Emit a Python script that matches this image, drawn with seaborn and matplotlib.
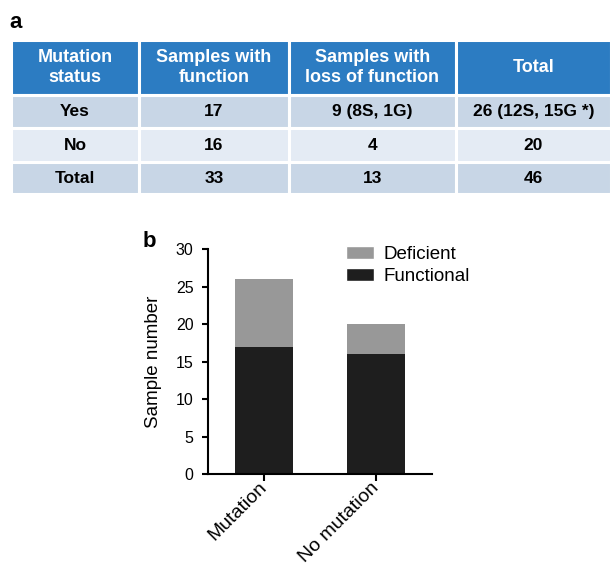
import numpy as np
import pandas as pd
import seaborn as sns
import matplotlib.pyplot as plt
from matplotlib.patches import Patch

# datos de la tabla (panel a)
col_labels = ["Mutation\nstatus", "Samples with\nfunction", "Samples with\nloss of function", "Total"]
row_status = ["Yes", "No", "Total"]
col_function = ["17", "16", "33"]
col_loss = ["9 (8S, 1G)", "4", "13"]
col_total = ["26 (12S, 15G *)", "20", "46"]

# datos del grafico (panel b)
groups = ["Mutation", "No mutation"]
functional = [17, 16]
deficient = [9, 4]

sns.set_theme(style="white")
plt.rcParams['font.family'] = ['Liberation Sans', 'DejaVu Sans']
plt.rcParams['text.color'] = 'black'
plt.rcParams['axes.labelcolor'] = 'black'
plt.rcParams['xtick.color'] = 'black'
plt.rcParams['ytick.color'] = 'black'

fig = plt.figure(figsize=(6.11, 5.7), dpi=100)

# Panel a: tabla
ax_t = fig.add_axes([0.018, 0.6596, 0.982, 0.2702])
ax_t.axis("off")
cell_text = [list(r) for r in zip(row_status, col_function, col_loss, col_total)]
header_color = "#2c7cc2"
row_colors = ["#c8d6e6", "#e4ebf4", "#c8d6e6"]
colw = [128, 150, 167, 155]
colw = [w / sum(colw) for w in colw]
row_h = [55, 33, 34, 32]
tbl = ax_t.table(cellText=cell_text, colLabels=col_labels, colWidths=colw,
                 cellLoc="center", bbox=[0, 0, 1, 1])
tbl.auto_set_font_size(False)
for (r, c), cell in tbl.get_celld().items():
    cell.set_edgecolor("white")
    cell.set_linewidth(2.2)
    cell.set_height(row_h[r])
    txt = cell.get_text()
    txt.set_fontweight("bold")
    if r == 0:
        cell.set_facecolor(header_color)
        txt.set_color("white")
        txt.set_fontsize(13)
        txt.set_linespacing(1.3)
    else:
        cell.set_facecolor(row_colors[r - 1])
        txt.set_color("black")
        txt.set_fontsize(12.5)

fig.text(0.016, 0.961, "a", fontsize=16, fontweight="bold", va="center", ha="left")
fig.text(0.233, 0.577, "b", fontsize=16, fontweight="bold", va="center", ha="left")

# Panel b: barras apiladas
ax = fig.add_axes([0.3404, 0.1684, 0.3666, 0.3947])
df = pd.DataFrame({"group": groups, "functional": functional, "deficient": deficient})
df["total"] = df["functional"] + df["deficient"]
sns.barplot(data=df, x="group", y="total", color="#989898", width=0.52,
            saturation=1, linewidth=0, ax=ax)
sns.barplot(data=df, x="group", y="functional", color="#1e1e1e", width=0.52,
            saturation=1, linewidth=0, ax=ax)
ax.set_xlim(-0.5, 1.5)
ax.set_ylim(0, 30)
ax.set_yticks(range(0, 31, 5))
ax.set_xlabel("")
ax.set_ylabel("Sample number", fontsize=13.5, labelpad=10)
for s in ["top", "right"]:
    ax.spines[s].set_visible(False)
for s in ["left", "bottom"]:
    ax.spines[s].set_color("black")
    ax.spines[s].set_linewidth(1.5)
ax.tick_params(axis="both", direction="out", width=1.5, color="black",
               bottom=True, left=True)
ax.tick_params(axis="x", length=5, pad=3)
ax.tick_params(axis="y", length=4.5, pad=6, labelsize=11.5)
ax.set_xticks(range(len(groups)))
ax.set_xticklabels(groups, rotation=45, ha="right", va="center",
                   rotation_mode="anchor", fontsize=14)

handles = [Patch(facecolor="#989898", label="Deficient"),
           Patch(facecolor="#1e1e1e", label="Functional")]
ax.legend(handles=handles, loc="upper left", bbox_to_anchor=(0.616, 1.013), frameon=False,
          fontsize=13.5, handlelength=1.5, handleheight=0.7, handletextpad=0.48,
          borderpad=0, borderaxespad=0, labelspacing=0.25)

fig.savefig("out.png", dpi=100, facecolor="white")
